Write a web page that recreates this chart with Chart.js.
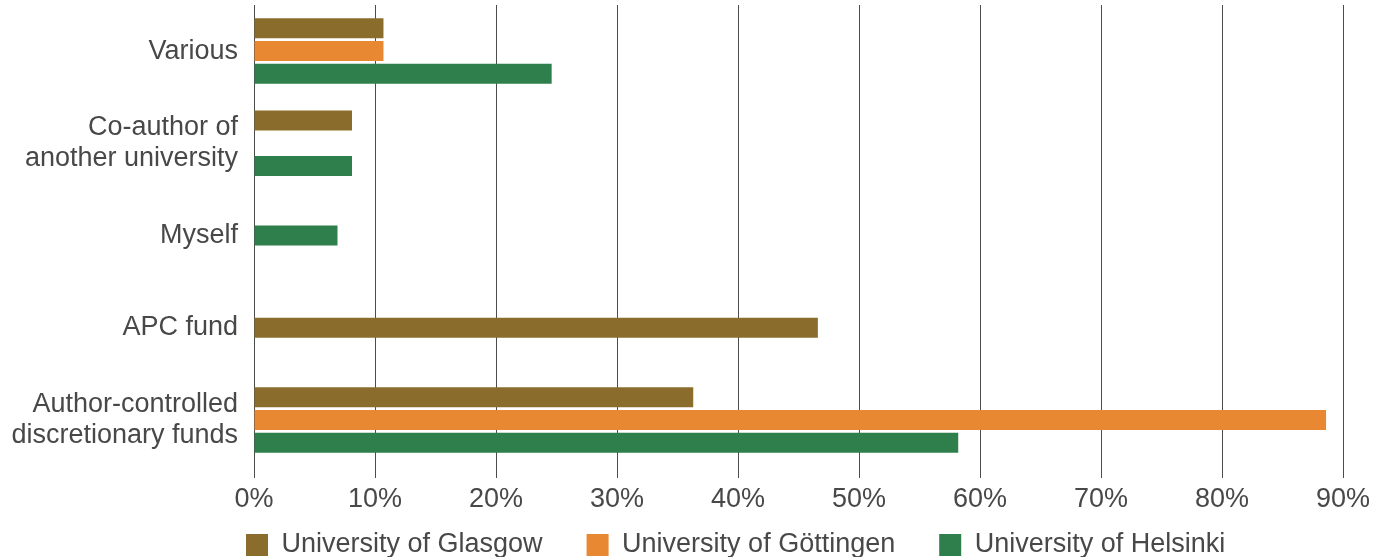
<!DOCTYPE html>
<html>
<head>
<meta charset="utf-8">
<script src="https://cdn.jsdelivr.net/npm/chart.js@4/dist/chart.umd.min.js"></script>
<style>
    html, body { margin: 0; padding: 0; background: #ffffff; }
    .chart-wrapper { width: 1389px; height: 557px; position: relative; }
</style>
</head>
<body>
<div class="chart-wrapper"><canvas id="fundingChart"></canvas></div>
<script>
// categories, top to bottom
const categories = [
    'Various',
    ['Co-author of', 'another university'],
    'Myself',
    'APC fund',
    ['Author-controlled', 'discretionary funds']
];

// share of respondents, %  (null = no bar, slot is dropped)
const glasgow   = [10.7, 8.1, null, 46.6, 36.3];
const gottingen = [10.7, 0,   null, null, 88.6];
const helsinki  = [24.6, 8.1, 6.9,  null, 58.2];

const seriesNames = ['University of Glasgow', 'University of Göttingen', 'University of Helsinki'];
const seriesColors = ['#8a6c2c', '#e98832', '#2e7f4b'];

const xTicks = [0, 10, 20, 30, 40, 50, 60, 70, 80, 90];

const textColor = '#484848';
const fontSize = 27;
const legendGap = 44;

Chart.defaults.font.family = "'Liberation Sans', Arial, sans-serif";
Chart.defaults.color = textColor;

// legend padding is also its horizontal gap, so park the box under the axis by hand
const legendPlacer = {
    id: 'legendPlacer',
    afterLayout(chart) {
        const lg = chart.legend;
        lg.left = 246 - legendGap;
        lg.right = chart.width;
        lg.top = 545 - fontSize / 2 - legendGap;
        lg.bottom = chart.height;
    }
};

const datasets = [glasgow, gottingen, helsinki].map((values, i) => ({
    label: seriesNames[i],
    data: values,
    backgroundColor: seriesColors[i],
    borderWidth: 0,
    skipNull: true,
    categoryPercentage: 0.74,
    barPercentage: 0.9,
    maxBarThickness: 20
}));

const ctx = document.getElementById('fundingChart').getContext('2d');
new Chart(ctx, {
    type: 'bar',
    data: { labels: categories, datasets },
    plugins: [legendPlacer],
    options: {
        indexAxis: 'y',
        responsive: true,
        maintainAspectRatio: false,
        animation: false,
        layout: { padding: { left: 0, right: 46, top: 5, bottom: 0 } },
        plugins: {
            legend: {
                position: 'bottom',
                align: 'start',
                maxHeight: 39,
                labels: {
                    boxWidth: 22,
                    boxHeight: 22,
                    padding: legendGap,
                    color: textColor,
                    font: { size: fontSize }
                }
            },
            tooltip: { enabled: false }
        },
        scales: {
            x: {
                min: 0,
                max: 90,
                afterBuildTicks: axis => { axis.ticks = xTicks.map(v => ({ value: v })); },
                afterFit: axis => { axis.height = 52; },
                border: { display: false },
                grid: { color: '#4c4c4c', lineWidth: 1, tickLength: 12 },
                ticks: {
                    padding: 5,
                    color: textColor,
                    font: { size: fontSize },
                    callback: v => v + '%'
                }
            },
            y: {
                afterFit: axis => {
                    axis.width = 254;
                    axis.paddingTop = 0;
                    axis.paddingBottom = 0;
                },
                border: { display: false },
                grid: { display: false, drawTicks: false },
                ticks: {
                    padding: 16,
                    color: textColor,
                    font: { size: fontSize, lineHeight: 1.16 }
                }
            }
        }
    }
});
</script>
</body>
</html>
